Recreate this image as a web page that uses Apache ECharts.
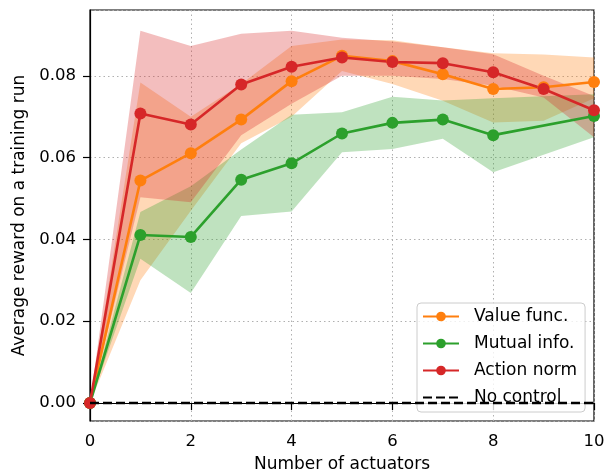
<!DOCTYPE html>
<html>
<head>
<meta charset="utf-8">
<script src="https://cdn.jsdelivr.net/npm/echarts@6/dist/echarts.min.js"></script>
<style>
html,body{margin:0;padding:0;background:#fff;}
#chart{width:611px;height:475px;}
</style>
</head>
<body>
<div id="chart"></div>
<script>
// ---- data ----
const xTicks = [0, 2, 4, 6, 8, 10];
const yTicks = [0.00, 0.02, 0.04, 0.06, 0.08];

const valueFuncX    = [0, 1, 2, 3, 4, 5, 6, 7, 8, 9, 10];
const valueFunc     = [0, 0.0544, 0.0611, 0.0693, 0.0787, 0.0849, 0.0836, 0.0804, 0.0768, 0.0772, 0.0785];
const valueFuncLow  = [0, 0.0300, 0.0470, 0.0635, 0.0700, 0.0812, 0.0780, 0.0739, 0.0686, 0.0690, 0.0745];
const valueFuncHigh = [0, 0.0784, 0.0700, 0.0780, 0.0873, 0.0889, 0.0887, 0.0870, 0.0855, 0.0852, 0.0845];

const mutualInfoX    = [0, 1, 2, 3, 4, 5, 6, 7, 8, 10];
const mutualInfo     = [0, 0.0411, 0.0406, 0.0546, 0.0586, 0.0659, 0.0685, 0.0693, 0.0655, 0.0702];
const mutualInfoLow  = [0, 0.0353, 0.0269, 0.0457, 0.0468, 0.0613, 0.0621, 0.0646, 0.0564, 0.0650];
const mutualInfoHigh = [0, 0.0467, 0.0530, 0.0620, 0.0705, 0.0711, 0.0749, 0.0740, 0.0745, 0.0755];

const actionNormX    = [0, 1, 2, 3, 4, 5, 6, 7, 8, 9, 10];
const actionNorm     = [0, 0.0708, 0.0681, 0.0779, 0.0822, 0.0845, 0.0834, 0.0831, 0.0809, 0.0768, 0.0716];
const actionNormLow  = [0, 0.0503, 0.0491, 0.0655, 0.0732, 0.0800, 0.0800, 0.0792, 0.0776, 0.0747, 0.0650];
const actionNormHigh = [0, 0.0910, 0.0873, 0.0903, 0.0910, 0.0893, 0.0884, 0.0870, 0.0853, 0.0800, 0.0751];

const noControlX = [0, 10];
const noControl  = [0, 0];

const names = ['Value func.', 'Mutual info.', 'Action norm', 'No control'];
const colors = ['#ff7f0e', '#2ca02c', '#d62728', '#000000'];
const bandColors = ['rgba(255,127,14,0.3)', 'rgba(44,160,44,0.3)', 'rgba(214,39,40,0.3)'];

// ---- build ----
const FONT = 'DejaVu Sans';
function pairs(xs, ys) { return xs.map((x, i) => [x, ys[i]]); }

function band(id, xs, lo, hi, fill) {
  return {
    type: 'custom', id: id, silent: true, z: 1,
    data: xs.map((x, i) => [x, lo[i], hi[i]]),
    encode: { x: 0, y: [1, 2] },
    renderItem: function (params, api) {
      if (params.dataIndex !== 0) return null;
      const pts = [];
      for (let i = 0; i < xs.length; i++) pts.push(api.coord([xs[i], hi[i]]));
      for (let i = xs.length - 1; i >= 0; i--) pts.push(api.coord([xs[i], lo[i]]));
      return { type: 'polygon', shape: { points: pts }, style: { fill: fill, stroke: null } };
    }
  };
}

function line(name, xs, ys, color) {
  return {
    type: 'line', name: name, data: pairs(xs, ys), z: 3,
    symbol: 'circle', symbolSize: 12, showSymbol: true,
    itemStyle: { color: color },
    lineStyle: { color: color, width: 2.6 },
    emphasis: { disabled: true }, animation: false
  };
}

const series = [
  band('b0', valueFuncX, valueFuncLow, valueFuncHigh, bandColors[0]),
  band('b1', mutualInfoX, mutualInfoLow, mutualInfoHigh, bandColors[1]),
  band('b2', actionNormX, actionNormLow, actionNormHigh, bandColors[2]),
  line(names[0], valueFuncX, valueFunc, colors[0]),
  line(names[1], mutualInfoX, mutualInfo, colors[1]),
  line(names[2], actionNormX, actionNorm, colors[2]),
  {
    type: 'line', name: names[3], data: pairs(noControlX, noControl), z: 4,
    symbol: 'none', itemStyle: { color: '#000' },
    lineStyle: { color: '#000', width: 2.4, type: [9, 4] },
    emphasis: { disabled: true }, animation: false
  }
];

const chart = echarts.init(document.getElementById('chart'), null, { renderer: 'canvas' });
chart.setOption({
  animation: false,
  backgroundColor: '#fff',
  textStyle: { fontFamily: FONT },
  grid: {
    left: 90, right: 17, top: 10, bottom: 54,
    containLabel: false, outerBoundsMode: 'none',
    show: true, borderColor: '#000', borderWidth: 1.2, backgroundColor: 'transparent'
  },
  xAxis: {
    type: 'value', min: 0, max: 10, interval: 2,
    name: 'Number of actuators', nameLocation: 'middle', nameGap: 35,
    nameTextStyle: { fontFamily: FONT, fontSize: 17, color: '#000' },
    axisLine: { show: true, lineStyle: { color: '#000', width: 1.2 } },
    axisTick: { show: true, length: 7, lineStyle: { color: '#000', width: 1.2 } },
    axisLabel: { fontFamily: FONT, fontSize: 16.5, color: '#000', margin: 12 },
    splitLine: { show: true, lineStyle: { color: '#b0b0b0', width: 1, type: [1.5, 3] } }
  },
  yAxis: {
    type: 'value', min: -0.0044, max: 0.0961, splitNumber: 5,
    name: 'Average reward on a training run', nameLocation: 'middle', nameGap: 60,
    nameTextStyle: { fontFamily: FONT, fontSize: 17, color: '#000' },
    axisLine: { show: true, lineStyle: { color: '#000', width: 1.2 } },
    axisTick: { show: true, length: 7, lineStyle: { color: '#000', width: 1.2 } },
    axisLabel: {
      fontFamily: FONT, fontSize: 16.5, color: '#000', margin: 14,
      showMinLabel: false, showMaxLabel: false,
      formatter: function (v) {
        for (const t of yTicks) if (Math.abs(v - t) < 1e-9) return t.toFixed(2);
        return '';
      }
    },
    splitLine: { show: true, lineStyle: { color: '#b0b0b0', width: 1, type: [1.5, 3] } }
  },
  legend: {
    orient: 'vertical', left: 417, top: 303,
    data: [
      { name: names[0] },
      { name: names[1] },
      { name: names[2] },
      { name: names[3], itemStyle: { opacity: 0 } }
    ],
    itemWidth: 36, itemHeight: 12, itemGap: 10,
    padding: [5, 8, 6, 5],
    backgroundColor: 'rgba(255,255,255,0.8)',
    borderColor: '#cccccc', borderWidth: 1, borderRadius: 4,
    textStyle: { fontFamily: FONT, fontSize: 17, color: '#000', lineHeight: 17, padding: [0, 0, 0, 10] }
  },
  series: series
});
</script>
</body>
</html>
